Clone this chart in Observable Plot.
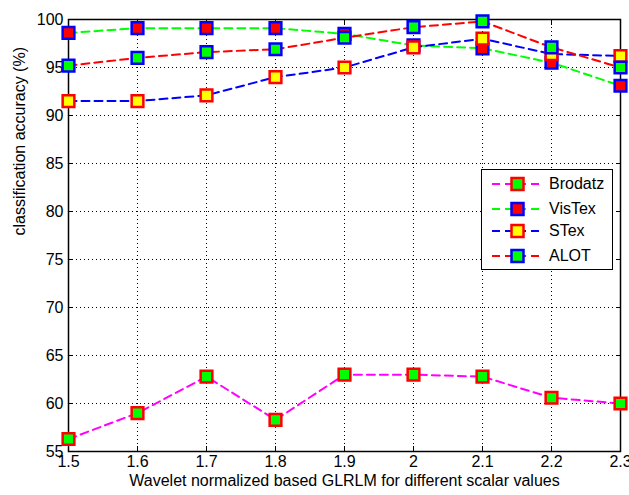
<!DOCTYPE html>
<html><head><meta charset="utf-8">
<script src="https://cdn.jsdelivr.net/npm/d3@7"></script>
<script src="https://cdn.jsdelivr.net/npm/@observablehq/plot@0.6"></script>
<style>
body{margin:0;background:#fff;font-family:"Liberation Sans",Arial,sans-serif;}
#wrap{position:relative;width:629px;height:495px;}
#legend{position:absolute;left:481px;top:169px;width:132px;height:101px;border:1px solid #000;background:#fff;box-sizing:border-box;font-size:16px;}
#legend .row{position:absolute;left:0;height:20px;display:flex;align-items:center;}
#legend .row span{position:absolute;left:67px;white-space:nowrap;}
</style>
</head><body>
<div id="wrap"><div id="legend"></div></div>
<script>
const scalars = [1.5, 1.6, 1.7, 1.8, 1.9, 2.0, 2.1, 2.2, 2.3];
const brodatz = [56.3, 59.0, 62.8, 58.3, 63.0, 63.0, 62.8, 60.6, 60.0];
const vistex  = [98.6, 99.1, 99.1, 99.1, 98.5, 97.3, 97.0, 95.5, 93.1];
const stex    = [91.5, 91.5, 92.1, 94.0, 95.0, 97.1, 98.0, 96.4, 96.2];
const alot    = [95.2, 96.0, 96.6, 96.9, 98.1, 99.2, 99.8, 97.1, 95.0];
const seriesNames = ["Brodatz", "VisTex", "STex", "ALOT"];
const seriesValues = [brodatz, vistex, stex, alot];
const lineColors = ["#ff00ff", "#00ff00", "#0000ff", "#ff0000"];
const faceColors = ["#00ff00", "#ff0000", "#ffff00", "#00ff00"];
const edgeColors = ["#ff0000", "#0000ff", "#ff0000", "#0000ff"];
const xTicks = [1.5, 1.6, 1.7, 1.8, 1.9, 2.0, 2.1, 2.2, 2.3];
const yTicks = [55, 60, 65, 70, 75, 80, 85, 90, 95, 100];
const xTitle = "Wavelet normalized based GLRLM for different scalar values";
const yTitle = "classification accuracy (%)";

const fmtX = d => String(+d.toFixed(1));
const font = 16;

const seriesMarks = seriesNames.flatMap((name, i) => {
  const rows = scalars.map((x, j) => ({x, y: seriesValues[i][j], name}));
  return [
    Plot.line(rows, {x: "x", y: "y", stroke: lineColors[i], strokeWidth: 2, strokeDasharray: "8,5"}),
    Plot.dot(rows, {x: "x", y: "y", symbol: "square", r: 6.6, fill: faceColors[i], stroke: edgeColors[i], strokeWidth: 2.5})
  ];
});

const chart = Plot.plot({
  width: 629, height: 495,
  marginLeft: 68, marginRight: 9, marginTop: 19, marginBottom: 44,
  style: {fontFamily: '"Liberation Sans", Arial, sans-serif', fontSize: font + "px", background: "#fff", color: "#000", overflow: "visible"},
  x: {domain: [1.5, 2.3]},
  y: {domain: [55, 100]},
  marks: [
    Plot.ruleX(xTicks.slice(1, -1), {stroke: "#000", strokeWidth: 1, strokeDasharray: "1,3"}),
    Plot.ruleY(yTicks.slice(1, -1), {stroke: "#000", strokeWidth: 1, strokeDasharray: "1,3"}),
    Plot.axisX(xTicks, {anchor: "bottom", tickSize: -5, tickPadding: 9, tickFormat: fmtX, fontSize: font, label: null}),
    Plot.axisX(xTicks, {anchor: "top", tickSize: -5, tickFormat: () => "", label: null}),
    Plot.axisY(yTicks, {anchor: "left", tickSize: -5, tickPadding: 10, fontSize: font, label: null}),
    Plot.axisY(yTicks, {anchor: "right", tickSize: -5, tickFormat: () => "", label: null}),
    Plot.frame({stroke: "#000", strokeWidth: 1.5}),
    ...seriesMarks,
    Plot.text([xTitle], {frameAnchor: "bottom", dy: 34, text: d => d, fontSize: font}),
    Plot.text([yTitle], {frameAnchor: "left", dx: -49, rotate: -90, text: d => d, fontSize: font})
  ]
});
document.getElementById("wrap").prepend(chart);

// legend
const legend = document.getElementById("legend");
const rowTops = [4, 29, 51, 76];
seriesNames.forEach((name, i) => {
  const row = document.createElement("div");
  row.className = "row";
  row.style.top = rowTops[i] + "px";
  row.style.width = "130px";
  const ns = "http://www.w3.org/2000/svg";
  const svg = document.createElementNS(ns, "svg");
  svg.setAttribute("width", "65"); svg.setAttribute("height", "20");
  const ln = document.createElementNS(ns, "line");
  ln.setAttribute("x1", 10); ln.setAttribute("x2", 58); ln.setAttribute("y1", 10); ln.setAttribute("y2", 10);
  ln.setAttribute("stroke", lineColors[i]); ln.setAttribute("stroke-width", 2); ln.setAttribute("stroke-dasharray", "8,5");
  const rc = document.createElementNS(ns, "rect");
  rc.setAttribute("x", 29.5); rc.setAttribute("y", 4); rc.setAttribute("width", 12); rc.setAttribute("height", 12);
  rc.setAttribute("fill", faceColors[i]); rc.setAttribute("stroke", edgeColors[i]); rc.setAttribute("stroke-width", 2.5);
  svg.appendChild(ln); svg.appendChild(rc);
  row.appendChild(svg);
  const sp = document.createElement("span");
  sp.textContent = name;
  row.appendChild(sp);
  legend.appendChild(row);
});
</script>
</body></html>
